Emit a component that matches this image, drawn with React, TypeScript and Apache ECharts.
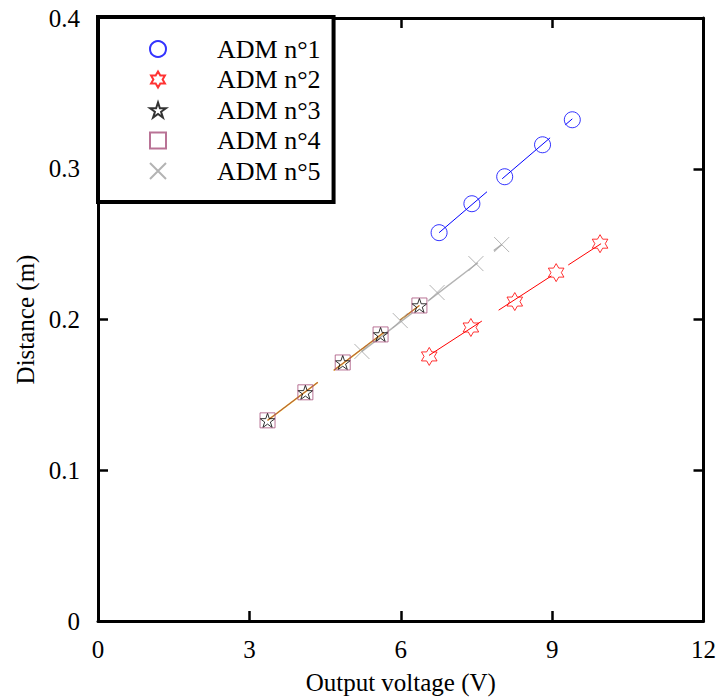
import React, { useEffect, useRef } from "react";
import * as echarts from "echarts";

const xTicks = [0, 3, 6, 9, 12];
const xTickLabels = ["0", "3", "6", "9", "12"];
const yTicks = [0, 0.1, 0.2, 0.3, 0.4];
const yTickLabels = ["0", "0.1", "0.2", "0.3", "0.4"];

const seriesNames = ["ADM n°1", "ADM n°2", "ADM n°3", "ADM n°4", "ADM n°5"];
const xAxisTitle = "Output voltage (V)";
const yAxisTitle = "Distance (m)";

const adm1 = [[6.76, 0.2576], [7.41, 0.2768], [8.06, 0.2947], [8.81, 0.3159], [9.40, 0.3325]];
const adm2 = [[6.565, 0.1755], [7.39, 0.1947], [8.26, 0.2119], [9.08, 0.2311], [9.95, 0.2503]];
const adm3 = [[3.36, 0.1331], [4.11, 0.1517], [4.85, 0.1715], [5.60, 0.1901], [6.37, 0.2093]];
const adm4 = [[3.36, 0.1331], [4.11, 0.1517], [4.85, 0.1715], [5.60, 0.1901], [6.37, 0.2093]];
const adm5 = [[5.23, 0.1788], [5.99, 0.1993], [6.72, 0.2179], [7.49, 0.2371], [8.00, 0.2497]];

const fit1 = [[6.76, 0.2576], [9.40, 0.3331]];
const fit2 = [[6.56, 0.1762], [9.97, 0.2503]];
const fit3 = [[3.36, 0.1331], [6.37, 0.2093]];
const fit4 = [[3.36, 0.1331], [6.37, 0.2093]];
const fit5 = [[5.23, 0.1788], [8.00, 0.2497]];

const HEX_STAR =
  "path://M10,0L7.113,5L1.34,5L4.226,10L1.34,15L7.113,15L10,20L12.887,15L18.66,15L15.774,10L18.66,5L12.887,5Z";
const STAR5 =
  "path://M10,0L12.245,6.91L19.511,6.91L13.633,11.18L15.878,18.09L10,13.82L4.122,18.09L6.367,11.18L0.489,6.91L7.755,6.91Z";
const SQUARE = "path://M0,0L10,0L10,10L0,10Z";
const CROSS = "path://M0,0L10,10M10,0L0,10";

const FONT = "'Liberation Serif', 'Times New Roman', serif";

function tickLabel(ticks: number[], labels: string[]) {
  return (v: number) => {
    const i = ticks.findIndex((t) => Math.abs(t - v) < 1e-9);
    return i >= 0 ? labels[i] : "";
  };
}

export default function App() {
  const ref = useRef<HTMLDivElement>(null);
  useEffect(() => {
    if (!ref.current) return;
    const chart = echarts.init(ref.current, null, { renderer: "svg" });
    const frame = { show: true, onZero: false, lineStyle: { color: "#000", width: 3 } };
    const tick = { show: true, inside: true, length: 10, lineStyle: { color: "#000", width: 2.5 } };
    const dash = [63, 20];
    const fitLine = (name: string, data: number[][], color: string, width = 1, opacity = 1) => ({
      name,
      type: "line",
      data,
      symbol: "none",
      showSymbol: false,
      silent: true,
      z: 1,
      lineStyle: { color, width, type: dash, opacity },
    });
    const scatter = (name: string, data: number[][], symbol: string, size: number, color: string) => ({
      name,
      type: "scatter",
      data,
      symbol,
      symbolSize: size,
      symbolKeepAspect: true,
      z: 3,
      itemStyle: { color: "transparent", borderColor: color, borderWidth: 1 },
    });
    chart.setOption({
      animation: false,
      backgroundColor: "#fff",
      textStyle: { fontFamily: FONT },
      grid: { left: 98, right: 12, top: 18, bottom: 78 },
      legend: {
        data: seriesNames,
        orient: "vertical",
        left: 98,
        top: 17,
        padding: [19, 13, 18, 51],
        itemWidth: 16,
        itemHeight: 16,
        itemGap: 4.5,
        backgroundColor: "#fff",
        borderColor: "#000",
        borderWidth: 4,
        borderRadius: 0,
        textStyle: {
          fontFamily: FONT,
          fontSize: 26,
          color: "#000",
          lineHeight: 26,
          padding: [0, 0, 0, 46],
        },
      },
      xAxis: [
        {
          type: "value",
          min: xTicks[0],
          max: xTicks[xTicks.length - 1],
          interval: 3,
          position: "bottom",
          name: xAxisTitle,
          nameLocation: "middle",
          nameGap: 49,
          nameTextStyle: { fontFamily: FONT, fontSize: 25, color: "#000" },
          axisLine: frame,
          axisTick: tick,
          splitLine: { show: false },
          axisLabel: {
            margin: 16,
            fontFamily: FONT,
            fontSize: 25,
            color: "#000",
            formatter: tickLabel(xTicks, xTickLabels),
          },
        },
        {
          type: "value",
          min: xTicks[0],
          max: xTicks[xTicks.length - 1],
          interval: 3,
          position: "top",
          axisLine: frame,
          axisTick: tick,
          splitLine: { show: false },
          axisLabel: { show: false },
        },
      ],
      yAxis: [
        {
          type: "value",
          min: yTicks[0],
          max: yTicks[yTicks.length - 1],
          interval: 0.1,
          position: "left",
          name: yAxisTitle,
          nameLocation: "middle",
          nameGap: 60,
          nameRotate: 90,
          nameTextStyle: { fontFamily: FONT, fontSize: 25, color: "#000" },
          axisLine: frame,
          axisTick: tick,
          splitLine: { show: false },
          axisLabel: {
            margin: 18,
            fontFamily: FONT,
            fontSize: 25,
            color: "#000",
            formatter: tickLabel(yTicks, yTickLabels),
          },
        },
        {
          type: "value",
          min: yTicks[0],
          max: yTicks[yTicks.length - 1],
          interval: 0.1,
          position: "right",
          axisLine: frame,
          axisTick: tick,
          splitLine: { show: false },
          axisLabel: { show: false },
        },
      ],
      series: [
        fitLine("fit1", fit1, "#0000ff"),
        fitLine("fit2", fit2, "#ff0000"),
        fitLine("fit5", fit5, "#b4b4b4", 1.5),
        fitLine("fit3", fit3, "#e8b000", 1.5),
        fitLine("fit4", fit4, "#a0406a", 1, 0.8),
        scatter(seriesNames[0], adm1, "circle", 16, "#0000ff"),
        scatter(seriesNames[1], adm2, HEX_STAR, 18, "#ff0000"),
        scatter(seriesNames[2], adm3, STAR5, 15, "#000000"),
        scatter(seriesNames[3], adm4, SQUARE, 15, "#a8507c"),
        scatter(seriesNames[4], adm5, CROSS, 15, "#a0a0a0"),
      ],
    });
    return () => chart.dispose();
  }, []);
  return (
    <div
      ref={ref}
      style={{ position: "fixed", left: 0, top: 0, width: 719, height: 700, background: "#fff" }}
    />
  );
}
